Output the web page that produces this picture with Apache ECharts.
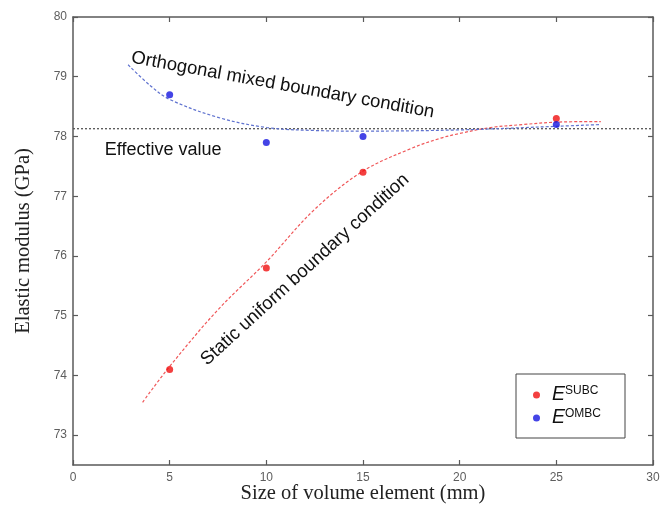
<!DOCTYPE html>
<html>
<head>
<meta charset="utf-8">
<script src="https://cdn.jsdelivr.net/npm/echarts@6/dist/echarts.min.js"></script>
<style>
  html, body { margin: 0; padding: 0; background: #fff; }
  #chart { width: 665px; height: 506px; }
</style>
</head>
<body>
<div id="chart"></div>
<script>
// Measured elastic modulus (GPa) for each volume element size (mm)
const sizes = [5, 10, 15, 25];
const subcValues = [74.1, 75.8, 77.4, 78.3];
const ombcValues = [78.7, 77.9, 78.0, 78.2];

// Fitted trend curves, sampled along each fit
const subcFitX = [3.6, 5, 7.5, 10, 12.5, 15, 17.5, 19, 20, 21.6, 23.3, 25, 27.3];
const subcFitY = [73.55, 74.15, 75.1, 75.9, 76.78, 77.42, 77.8, 77.97, 78.05, 78.15, 78.2, 78.24, 78.25];
const ombcFitX = [2.85, 4, 5, 7.5, 10, 12.5, 15, 20, 25, 27.3];
const ombcFitY = [79.2, 78.85, 78.62, 78.32, 78.15, 78.1, 78.09, 78.11, 78.17, 78.2];

// Effective (homogenised) modulus
const effectiveValue = 78.13;

// Axis ranges and tick labels
const xTicks = [0, 5, 10, 15, 20, 25, 30];
const yTicks = [73, 74, 75, 76, 77, 78, 79, 80];
const yMin = 72.5, yMax = 80;

const pairs = (xs, ys) => xs.map((x, i) => [x, ys[i]]);

const axisColor = '#5a5a5a';
const tickFont = "'Liberation Sans Narrow', 'Arial Narrow', 'Liberation Sans', sans-serif";
const serif = "'Liberation Serif', 'Times New Roman', serif";
const sans = "'Liberation Sans', Arial, sans-serif";

const chart = echarts.init(document.getElementById('chart'), null, { renderer: 'canvas' });

const baseX = {
  type: 'value', min: xTicks[0], max: xTicks[xTicks.length - 1], interval: 5,
  axisLine: { show: true, onZero: false, lineStyle: { color: axisColor, width: 1.5 } },
  axisTick: { show: true, inside: true, length: 5, lineStyle: { color: axisColor, width: 1.2 } },
  splitLine: { show: false }
};
const baseY = {
  type: 'value', min: yMin, max: yMax,
  axisLine: { show: true, onZero: false, lineStyle: { color: axisColor, width: 1.5 } },
  axisTick: { show: true, inside: true, length: 5, customValues: yTicks, lineStyle: { color: axisColor, width: 1.2 } },
  splitLine: { show: false }
};

chart.setOption({
  animation: false,
  backgroundColor: '#fff',
  grid: { left: 73, right: 12, top: 17, bottom: 41, containLabel: false, outerBoundsMode: 'none' },
  xAxis: [
    Object.assign({}, baseX, {
      position: 'bottom',
      name: 'Size of volume element (mm)',
      nameLocation: 'middle', nameGap: 18, nameMoveOverlap: false,
      nameTextStyle: { fontFamily: serif, fontSize: 20.5, color: '#222' },
      axisLabel: { show: true, margin: 7, color: '#5e5e5e', fontSize: 12, fontFamily: tickFont }
    }),
    Object.assign({}, baseX, { position: 'top', axisLabel: { show: false } })
  ],
  yAxis: [
    Object.assign({}, baseY, {
      position: 'left',
      name: 'Elastic modulus (GPa)',
      nameLocation: 'middle', nameGap: 39, nameRotate: 90,
      nameTextStyle: { fontFamily: serif, fontSize: 20.5, color: '#222' },
      axisLabel: { show: true, margin: 6, color: '#5e5e5e', fontSize: 12, fontFamily: tickFont, customValues: yTicks }
    }),
    Object.assign({}, baseY, { position: 'right', axisLabel: { show: false } })
  ],
  legend: {
    left: 516, top: 374,
    orient: 'vertical',
    data: ['SUBC', 'OMBC'],
    icon: 'circle', itemWidth: 7, itemHeight: 7, itemGap: 3,
    padding: [11, 24, 10, 17],
    borderColor: '#444', borderWidth: 1,
    backgroundColor: '#fff',
    formatter: name => '{e|E}{s|' + name + '}',
    textStyle: {
      rich: {
        e: { fontFamily: sans, fontStyle: 'italic', fontSize: 19.5, color: '#111', padding: [0, 0, 0, 7], lineHeight: 20 },
        s: { fontFamily: sans, fontSize: 12, color: '#111', verticalAlign: 'top', lineHeight: 20, padding: [0, 0, 5, 0] }
      }
    }
  },
  series: [
    {
      name: 'effective', type: 'line', silent: true, symbol: 'none', z: 1,
      data: [[xTicks[0], effectiveValue], [xTicks[xTicks.length - 1], effectiveValue]],
      lineStyle: { color: '#555', width: 1.3, type: [2, 2] }
    },
    {
      name: 'SUBC fit', type: 'line', silent: true, symbol: 'none', smooth: 0.35, z: 2,
      data: pairs(subcFitX, subcFitY),
      lineStyle: { color: '#f0585a', width: 1.2, type: [3, 2] }
    },
    {
      name: 'OMBC fit', type: 'line', silent: true, symbol: 'none', smooth: 0.35, z: 2,
      data: pairs(ombcFitX, ombcFitY),
      lineStyle: { color: '#5f72cf', width: 1.2, type: [3, 2] }
    },
    {
      name: 'SUBC', type: 'scatter', symbol: 'circle', symbolSize: 7, z: 3,
      itemStyle: { color: '#f01010' },
      data: pairs(sizes, subcValues)
    },
    {
      name: 'OMBC', type: 'scatter', symbol: 'circle', symbolSize: 7, z: 3,
      itemStyle: { color: '#1515e0' },
      data: pairs(sizes, ombcValues)
    }
  ]
});

// Curve annotations, anchored in data coordinates
const notes = [
  { text: 'Orthogonal mixed boundary condition', at: [10.85, 78.86], angle: -10.3, size: 18.5 },
  { text: 'Effective value', at: [4.66, 77.77], angle: 0, size: 18 },
  { text: 'Static uniform boundary condition', at: [12.0, 75.77], angle: 42.4, size: 18.5 }
];
chart.setOption({
  graphic: notes.map(n => {
    const p = chart.convertToPixel({ gridIndex: 0 }, n.at);
    return {
      type: 'text', x: p[0], y: p[1], rotation: n.angle * Math.PI / 180, z: 10,
      style: {
        text: n.text, fontFamily: sans, fontSize: n.size, fill: '#111',
        textAlign: 'center', textVerticalAlign: 'middle'
      }
    };
  })
});
</script>
</body>
</html>
